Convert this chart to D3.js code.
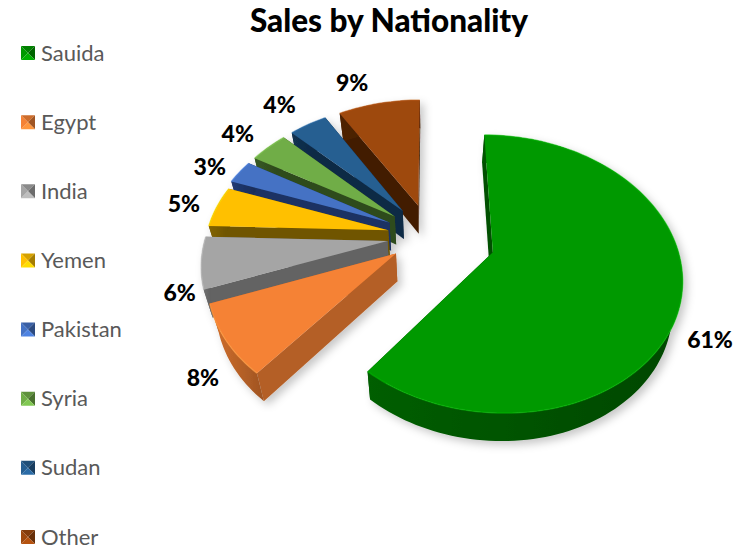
<!DOCTYPE html>
<html><head><meta charset="utf-8">
<script src="https://cdn.jsdelivr.net/npm/d3@7"></script>
<style>html,body{margin:0;background:#fff}svg{display:block}</style></head>
<body><div id="c"></div>
<script>
const categories = ["Sauida","Egypt","India","Yemen","Pakistan","Syria","Sudan","Other"];
const shares = [0.61,0.084,0.062,0.05,0.029,0.04,0.04,0.086];
const topColors = ["#009900","#F58235","#A5A5A5","#FFC000","#4472C4","#70AD47","#255E91","#9E480E"];
const wallColors = ["#005000","#B45F26","#636363","#705500","#1C3263","#2F4B1D","#0F2A45","#431E05"];
const explode = [0.36,0.225,0.235,0.235,0.25,0.25,0.25,0.25];
const labelNudge = [[-11,28],[15,17],[17,25],[0,1],[-2,3],[-8,-2],[-12,-6],[-20,-4]];
const title = "Sales by Nationality";

const W=740,H=549, cx=430, cy=236, qx=182, qy=130.5, persp=0.155, depth=28, shrink=0.04;
const svg=d3.select("#c").append("svg").attr("width",W).attr("height",H);
const defs=svg.append("defs");
const f=defs.append("filter").attr("id","sh").attr("x","-20%").attr("y","-20%").attr("width","140%").attr("height","140%");
f.append("feDropShadow").attr("dx",4).attr("dy",4).attr("stdDeviation",4).attr("flood-color","#000").attr("flood-opacity",0.22);

function project(u,v){const w=1+persp*v;return [cx+qx*u/w, cy-qy*v/w];}
function below(p){return [cx+(p[0]-cx)*(1-shrink), p[1]+depth];}
const line=d3.line();
const pie=d3.pie().sort(null).value(d=>d)(shares);

function sliceGeom(d,i){
  const mid=(d.startAngle+d.endAngle)/2, e=explode[i];
  const ox=e*Math.sin(mid), oy=e*Math.cos(mid);
  const pt=(a,r)=>project(ox+r*Math.sin(a),oy+r*Math.cos(a));
  const n=Math.max(6,Math.ceil((d.endAngle-d.startAngle)/0.03));
  const arc=d3.range(n+1).map(k=>pt(d.startAngle+(d.endAngle-d.startAngle)*k/n,1));
  return {mid,ox,oy,pt,arc,apex:pt(0,0)};
}
const g=svg.append("g").attr("filter","url(#sh)");
const order=[7,6,5,4,3,2,1,0];
order.forEach(i=>{
  const d=pie[i], s=sliceGeom(d,i), a0=s.arc[0], a1=s.arc[s.arc.length-1];
  const grp=g.append("g");
  const id="w"+i;
  const lg=defs.append("linearGradient").attr("id",id);
  const base=d3.color(wallColors[i]);
  lg.append("stop").attr("offset","0%").attr("stop-color",base.brighter(0.45).formatHex());
  lg.append("stop").attr("offset","100%").attr("stop-color",base.darker(0.35).formatHex());
  grp.append("path").attr("d",line([s.apex,a1,below(a1),below(s.apex)])+"Z").attr("fill",wallColors[i]);
  grp.append("path").attr("d",line([s.apex,a0,below(a0),below(s.apex)])+"Z").attr("fill",wallColors[i]);
  const rim=s.arc.concat(s.arc.map(below).reverse());
  grp.append("path").attr("d",line(rim)+"Z").attr("fill",`url(#${id})`);
  grp.append("path").attr("d",line([s.apex].concat(s.arc))+"Z").attr("fill",topColors[i]);
  grp.append("path").attr("d",line(s.arc)).attr("fill","none").attr("stroke",d3.color(topColors[i]).brighter(0.5).formatHex()).attr("stroke-width",1.5).attr("stroke-opacity",0.6);
});

pie.forEach((d,i)=>{
  const s=sliceGeom(d,i), p=s.pt(s.mid,1.2), n=labelNudge[i];
  svg.append("text").attr("x",p[0]+n[0]).attr("y",p[1]+n[1]).attr("text-anchor","middle").attr("dominant-baseline","central")
    .attr("font-family","Lato").attr("font-weight",900).attr("font-size",23).attr("fill","#000")
    .text(d3.format(".0%")(shares[i]));
});
svg.append("text").attr("x",389).attr("y",32).attr("text-anchor","middle").attr("font-family","Lato").attr("font-weight",900).attr("font-size",31.5).attr("fill","#000").text(title);
const ly=d3.scalePoint().domain(categories).range([53,537]);
categories.forEach((c,i)=>{
  const y=ly(c), x0=21,x1=35,y0=y-7,y1=y+7,mx=28,my=y, col=d3.color(topColors[i]);
  const tri=[[[x0,y0],[x1,y0],[mx,my],col.darker(0.5)],[[x0,y0],[x0,y1],[mx,my],col],[[x1,y0],[x1,y1],[mx,my],col.darker(1.2)],[[x0,y1],[x1,y1],[mx,my],col.brighter(0.4)]];
  tri.forEach(t=>svg.append("path").attr("d",line(t.slice(0,3))+"Z").attr("fill",t[3].formatHex()));
  svg.append("text").attr("x",41).attr("y",y-1).attr("dominant-baseline","central").attr("font-family","Lato").attr("font-size",22).attr("fill","#595959").text(c);
});
</script></body></html>
